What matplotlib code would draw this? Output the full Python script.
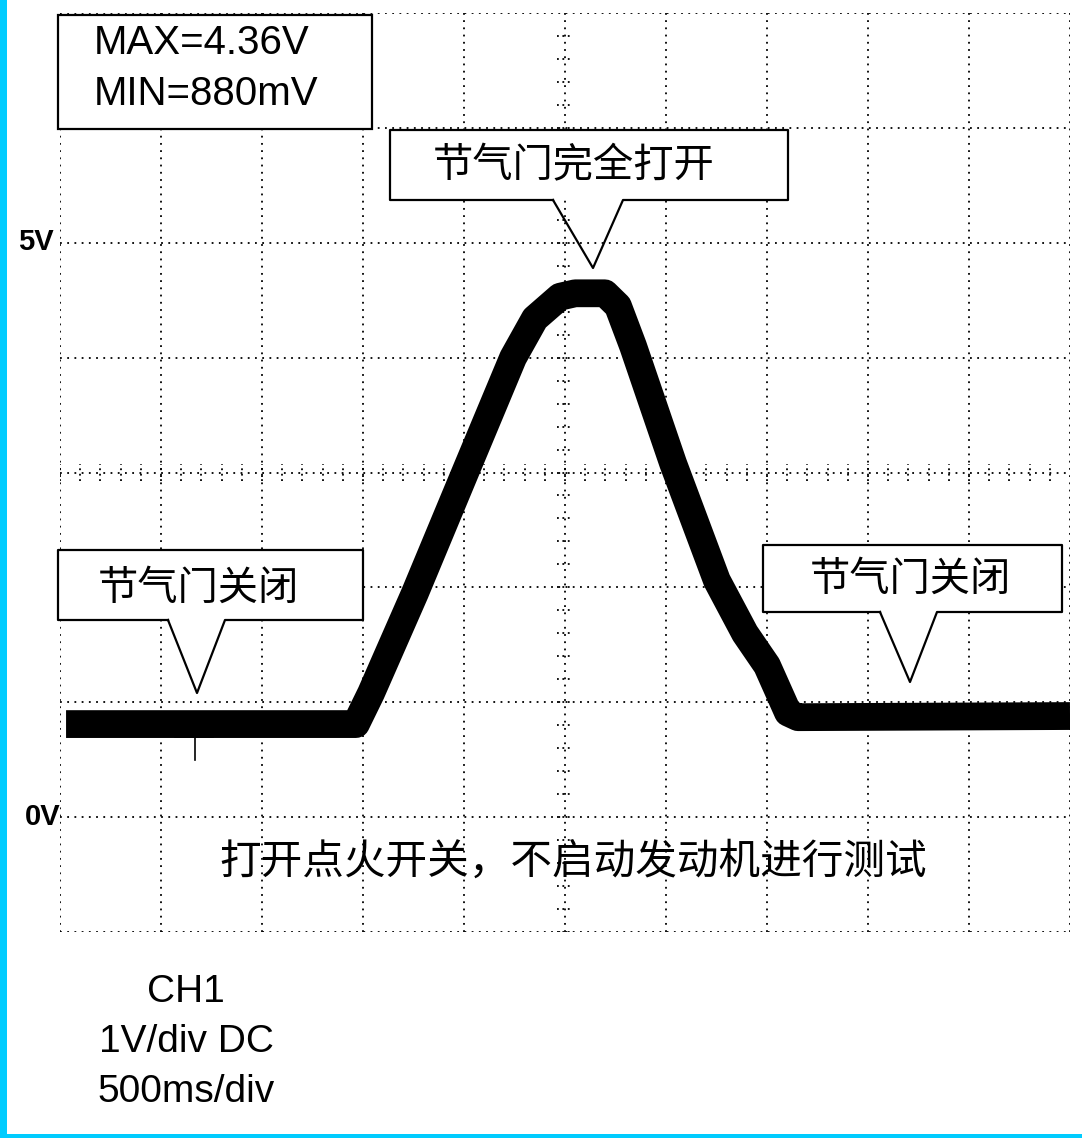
import matplotlib
matplotlib.use('Agg')
import matplotlib.pyplot as plt
from matplotlib.patches import Rectangle

# oscilloscope trace (time in s, voltage in V)
t_pts = [0.03, 1.465, 1.54, 1.757, 2.015, 2.243, 2.351, 2.475, 2.55, 2.698,
         2.762, 2.837, 3.035, 3.252, 3.391, 3.5, 3.604, 3.653, 5.0]
v_pts = [0.81, 0.81, 1.08, 1.95, 3.04, 4.0, 4.34, 4.53, 4.56, 4.56,
         4.45, 4.1, 3.08, 2.06, 1.6, 1.32, 0.91, 0.87, 0.88]

t_divs = [i * 0.5 for i in range(11)]     # 500 ms/div
v_divs = [-1, 0, 1, 2, 3, 4, 5, 6, 7]      # 1 V/div
v_labels = {5: '5V', 0: '0V'}

info_lines = ['MAX=4.36V', 'MIN=880mV']
scope_lines = ['CH1', '1V/div DC', '500ms/div']
note = '打开点火开关，不启动发动机进行测试'

W, H = 1082, 1138
cjk = ['Noto Sans CJK SC', 'DejaVu Sans']
lat = 'Liberation Sans'

fig = plt.figure(figsize=(W / 100, H / 100), dpi=100)
fig.patch.set_facecolor('white')

# screen area in pixels: x 60..1070, y 13..932
ax = fig.add_axes([60 / W, 1 - 932 / H, 1010 / W, 919 / H])
ax.set_xlim(0, 5)
ax.set_ylim(-1, 7)
ax.axis('off')

dots = dict(color='black', lw=1.3, linestyle=(0, (1, 3)))
for t in t_divs:
    ax.axvline(t, **dots)
for v in v_divs:
    ax.axhline(v, **dots)

# minor ticks on the centre cross
tick = dict(color='black', lw=1.3, linestyle=(0, (1, 2)))
for k in range(50):
    t = k * 0.1
    ax.plot([t, t], [2.93, 3.07], **tick)
for k in range(40):
    v = -1 + k * 0.2
    ax.plot([2.46, 2.54], [v, v], **tick)

ax.plot(t_pts, v_pts, color='black', lw=20, solid_joinstyle='round',
        solid_capstyle='butt', zorder=3)

# overlay in pixel coordinates for labels and callouts
ov = fig.add_axes([0, 0, 1, 1])
ov.set_xlim(0, W)
ov.set_ylim(H, 0)
ov.axis('off')
ov.patch.set_alpha(0)

for v, s in v_labels.items():
    py = 817 - v * 115
    ov.text(54 if v else 60, py, s, ha='right', va='center', fontsize=21,
            fontweight='bold', family=lat)

# MAX / MIN box
ov.add_patch(Rectangle((58, 15), 314, 114, facecolor='white',
                       edgecolor='black', lw=1.6, zorder=4))
ov.text(94, 43, info_lines[0], ha='left', va='center', fontsize=29,
        family=lat, zorder=5)
ov.text(94, 94, info_lines[1], ha='left', va='center', fontsize=29,
        family=lat, zorder=5)


def callout(x1, y1, x2, y2, b1, b2, tip, text, tx, ty):
    ov.add_patch(Rectangle((x1, y1), x2 - x1, y2 - y1, facecolor='white',
                           edgecolor='none', zorder=4))
    xs = [b1, tip[0], b2, x2, x2, x1, x1, b1]
    ys = [y2, tip[1], y2, y2, y1, y1, y2, y2]
    ov.plot(xs, ys, color='black', lw=1.6, zorder=5)
    ov.text(tx, ty, text, ha='center', va='center', fontsize=29,
            family=cjk, fontweight='medium', zorder=6)


callout(390, 130, 788, 200, 553, 623, (593, 268), '节气门完全打开', 574, 166)
callout(58, 550, 363, 620, 168, 225, (197, 693), '节气门关闭', 198, 588)
callout(763, 545, 1062, 612, 880, 937, (910, 682), '节气门关闭', 910, 579)

# trigger mark
ov.plot([175, 213], [737, 737], color='black', lw=1.2, zorder=5)
ov.plot([195, 195], [737, 760], color='black', lw=1.2, zorder=5)

ov.text(573, 862, note, ha='center', va='center', fontsize=30, family=cjk,
        fontweight='medium')

for i, s in enumerate(scope_lines):
    ov.text(186, 992 + i * 50, s, ha='center', va='center', fontsize=28,
            family=lat)

# cyan frame on the left and bottom
ov.add_patch(Rectangle((0, 0), 7, H, facecolor='#00CCFF', edgecolor='none'))
ov.add_patch(Rectangle((0, 1134), W, 4, facecolor='#00CCFF', edgecolor='none'))

fig.savefig('out.png', dpi=100, facecolor='white')
